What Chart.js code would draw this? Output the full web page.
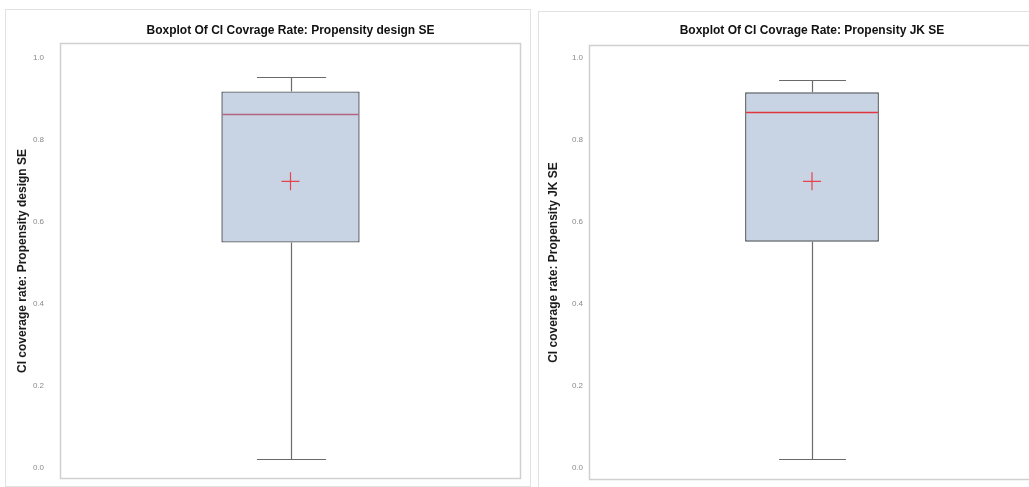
<!DOCTYPE html>
<html><head><meta charset="utf-8">
<script src="https://cdn.jsdelivr.net/npm/chart.js@4.4.1/dist/chart.umd.min.js"></script>
<style>
html,body{margin:0;padding:0;background:#fff;overflow:hidden;width:1029px;height:487px;position:relative;}
.frame{position:absolute;border:1px solid #e2e2e2;box-sizing:border-box;}
#f1{left:5px;top:9px;width:526px;height:478px;}
#f2{left:538px;top:11px;width:520px;height:480px;}
canvas{position:absolute;display:block;}
#c1{left:5px;top:9px;}
#c2{left:538px;top:11px;}
</style></head><body>
<div class="frame" id="f1"></div>
<div class="frame" id="f2"></div>
<canvas id="c1" width="525" height="474"></canvas>
<canvas id="c2" width="500" height="472"></canvas>
<script>
const categories = ['Propensity design SE', 'Propensity JK SE'];
const chartTitles = ['Boxplot Of CI Covrage Rate: Propensity design SE', 'Boxplot Of CI Covrage Rate: Propensity JK SE'];
const yTitles = ['CI coverage rate: Propensity design SE', 'CI coverage rate: Propensity JK SE'];
const minValues = [0.022, 0.022];
const q1Values = [0.549, 0.551];
const medianValues = [0.863, 0.866];
const q3Values = [0.917, 0.915];
const maxValues = [0.951, 0.946];
const meanValues = [0.698, 0.698];
const yTickValues = [0.0, 0.2, 0.4, 0.6, 0.8, 1.0];
const yMin = [-0.027, -0.029];
const yMax = [1.035, 1.030];

const boxExtras = {
  id: 'boxExtras',
  beforeDatasetsDraw(chart, args, opts) {
    const {ctx, chartArea: a, scales: {y}} = chart;
    const i = opts.idx;
    ctx.save();
    ctx.strokeStyle = '#d0d0d0';
    ctx.lineWidth = 1.5;
    ctx.strokeRect(a.left + 0.5, a.top + 0.5, a.width - 1, a.height - 1);
    const bar = chart.getDatasetMeta(0).data[0];
    const cx = Math.round(bar.x) + 0.5;
    const half = bar.width / 4;
    const pMin = Math.round(y.getPixelForValue(minValues[i])) + 0.5;
    const pMax = Math.round(y.getPixelForValue(maxValues[i])) + 0.5;
    const pQ1 = y.getPixelForValue(q1Values[i]);
    const pQ3 = y.getPixelForValue(q3Values[i]);
    ctx.strokeStyle = '#6a6a6a';
    ctx.lineWidth = 1.2;
    ctx.beginPath();
    ctx.moveTo(cx, pQ3); ctx.lineTo(cx, pMax);
    ctx.moveTo(cx - half, pMax); ctx.lineTo(cx + half, pMax);
    ctx.moveTo(cx, pQ1); ctx.lineTo(cx, pMin);
    ctx.moveTo(cx - half, pMin); ctx.lineTo(cx + half, pMin);
    ctx.stroke();
    ctx.restore();
  },
  afterDatasetsDraw(chart, args, opts) {
    const {ctx, scales: {y}} = chart;
    const i = opts.idx;
    const bar = chart.getDatasetMeta(0).data[0];
    const pMed = Math.round(y.getPixelForValue(medianValues[i])) + 0.5;
    ctx.save();
    ctx.strokeStyle = opts.medianColor;
    ctx.lineWidth = 1.6;
    ctx.beginPath();
    ctx.moveTo(bar.x - bar.width / 2 + 1, pMed);
    ctx.lineTo(bar.x + bar.width / 2 - 1, pMed);
    ctx.stroke();
    ctx.restore();
  }
};

function makeChart(id, i, pad, titlePad, yTitlePad, tickPad, yWidth, medianColor) {
  return new Chart(document.getElementById(id), {
    type: 'bar',
    data: {
      labels: [categories[i]],
      datasets: [
        {
          type: 'bar',
          data: [[q1Values[i], q3Values[i]]],
          backgroundColor: '#c8d4e4',
          borderColor: '#4f545c',
          borderWidth: 1.4,
          borderSkipped: false,
          barPercentage: 0.3,
          categoryPercentage: 1.0,
          order: 2
        },
        {
          type: 'line',
          data: [meanValues[i]],
          showLine: false,
          pointStyle: 'cross',
          pointRadius: 9,
          pointBorderWidth: 1.2,
          pointBorderColor: '#e5424c',
          pointBackgroundColor: '#e5424c',
          order: 1
        }
      ]
    },
    options: {
      responsive: false,
      animation: false,
      events: [],
      layout: {padding: pad, autoPadding: false},
      plugins: {
        legend: {display: false},
        tooltip: {enabled: false},
        title: {
          display: true,
          fullSize: false,
          text: chartTitles[i],
          color: '#111',
          font: {family: 'Liberation Sans, Arial, sans-serif', size: 12, weight: 'bold', lineHeight: 1.2},
          padding: titlePad
        },
        boxExtras: {idx: i, medianColor: medianColor}
      },
      scales: {
        x: {display: false},
        y: {
          min: yMin[i],
          max: yMax[i],
          afterBuildTicks: (s) => { s.ticks = yTickValues.map(v => ({value: v})); },
          afterFit: (s) => { s.width = yWidth; s.paddingTop = 0; s.paddingBottom = 0; },
          grid: {display: false, drawTicks: false},
          border: {display: false},
          ticks: {
            color: '#8a8a8a',
            padding: tickPad,
            font: {family: 'Liberation Sans, Arial, sans-serif', size: 8},
            callback: (v) => Number(v).toFixed(1)
          },
          title: {
            display: true,
            text: yTitles[i],
            color: '#1a1a1a',
            font: {family: 'Liberation Sans, Arial, sans-serif', size: 12, weight: 'bold', lineHeight: 1.2},
            padding: {top: yTitlePad, bottom: 0}
          }
        }
      }
    },
    plugins: [boxExtras]
  });
}

makeChart('c1', 0, {left: 0, right: 9, top: 0, bottom: 4}, {top: 14, bottom: 5.6}, 10, 16, 55, '#b46480');
makeChart('c2', 1, {left: 0, right: 3, top: 0, bottom: 3}, {top: 12, bottom: 7.6}, 8, 6, 51, '#e3343f');
</script>
</body></html>
